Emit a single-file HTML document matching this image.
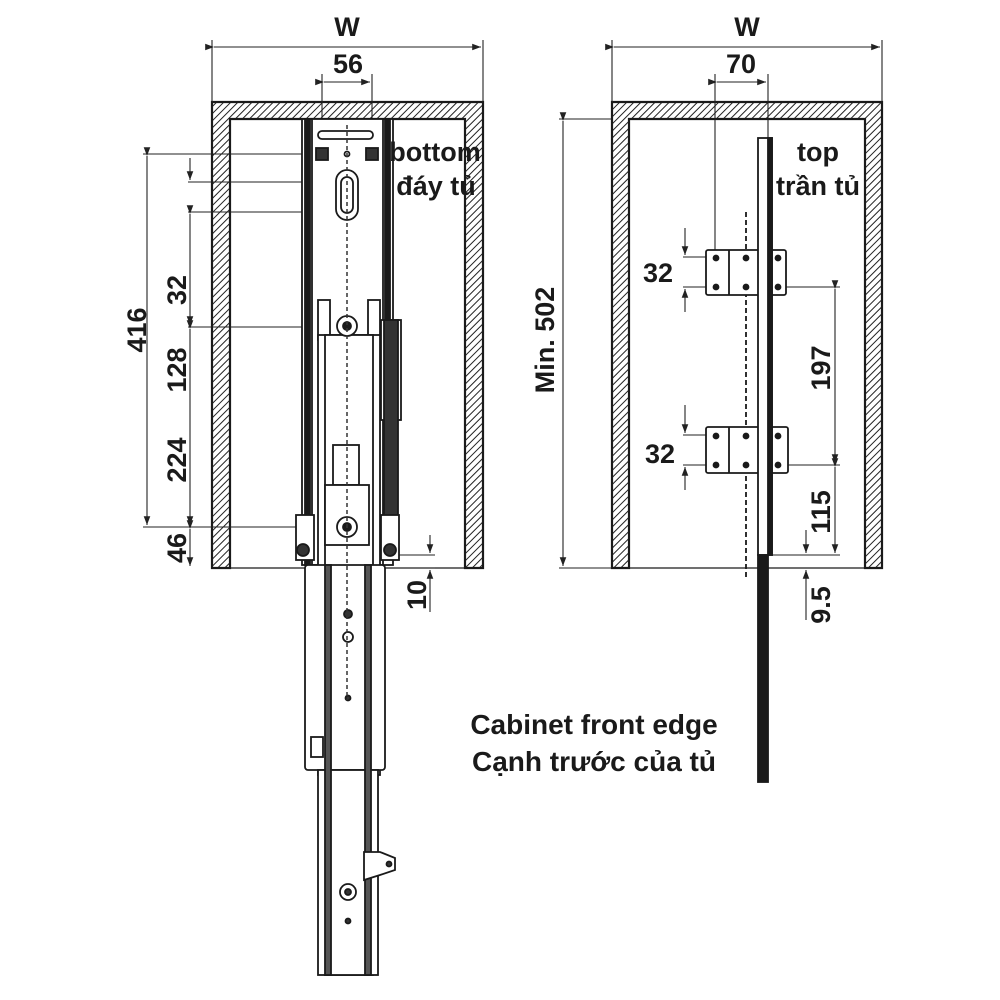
<!DOCTYPE html>
<html><head><meta charset="utf-8"><style>
html,body{margin:0;padding:0;background:#fff}
svg{display:block}
text{font-family:"Liberation Sans",sans-serif;font-weight:bold;fill:#1a1a1a}
</style></head><body>
<svg width="1000" height="1000" viewBox="0 0 1000 1000" xmlns="http://www.w3.org/2000/svg">
<defs>
<pattern id="h" width="5" height="5" patternUnits="userSpaceOnUse" patternTransform="rotate(45)">
<rect width="5" height="5" fill="#fff"/><line x1="0" y1="0" x2="0" y2="5" stroke="#222" stroke-width="2"/>
</pattern>
<marker id="a" markerWidth="8" markerHeight="10" refX="8" refY="5" orient="auto"><path d="M0,2 L8,5 L0,8" fill="#222"/></marker>
</defs>
<g stroke="#1a1a1a" fill="none" stroke-width="2.2">
<path d="M212,568 V102 H483 V568 H465 V119 H230 V568 Z" fill="url(#h)"/>
<path d="M612,568 V102 H882 V568 H865 V119 H629 V568 Z" fill="url(#h)"/>
<line x1="230" y1="568" x2="465" y2="568" stroke-width="1.2"/>
<line x1="629" y1="568" x2="865" y2="568" stroke-width="1.2"/>
</g>
<g stroke="#222" stroke-width="1.1">
<line x1="212" y1="40" x2="212" y2="102"/><line x1="483" y1="40" x2="483" y2="102"/>
<line x1="214" y1="47" x2="481" y2="47" marker-start="url(#a)" marker-end="url(#a)"/>
<line x1="322" y1="74" x2="322" y2="140"/><line x1="372" y1="74" x2="372" y2="140"/>
<line x1="324" y1="82" x2="370" y2="82" marker-start="url(#a)" marker-end="url(#a)"/>
<line x1="612" y1="40" x2="612" y2="102"/><line x1="882" y1="40" x2="882" y2="102"/>
<line x1="614" y1="47" x2="880" y2="47" marker-start="url(#a)" marker-end="url(#a)"/>
<line x1="715" y1="74" x2="715" y2="255"/><line x1="768" y1="74" x2="768" y2="255"/>
<line x1="717" y1="82" x2="766" y2="82" marker-start="url(#a)" marker-end="url(#a)"/>
<line x1="143" y1="154" x2="330" y2="154"/>
<line x1="188" y1="182" x2="345" y2="182"/>
<line x1="188" y1="212" x2="345" y2="212"/>
<line x1="188" y1="327" x2="345" y2="327"/>
<line x1="143" y1="527" x2="345" y2="527"/>
<line x1="147" y1="156" x2="147" y2="525" marker-start="url(#a)" marker-end="url(#a)"/>
<line x1="190" y1="158" x2="190" y2="180" marker-end="url(#a)"/>
<line x1="190" y1="214" x2="190" y2="325" marker-start="url(#a)" marker-end="url(#a)"/>
<line x1="190" y1="329" x2="190" y2="525" marker-start="url(#a)" marker-end="url(#a)"/>
<line x1="190" y1="529" x2="190" y2="566" marker-start="url(#a)" marker-end="url(#a)"/>
<line x1="385" y1="555" x2="435" y2="555"/>
<line x1="430" y1="535" x2="430" y2="553" marker-end="url(#a)"/>
<line x1="430" y1="612" x2="430" y2="570" marker-end="url(#a)"/>
<line x1="395" y1="568" x2="435" y2="568"/>
<line x1="559" y1="119" x2="612" y2="119"/>
<line x1="563" y1="121" x2="563" y2="566" marker-start="url(#a)" marker-end="url(#a)"/>
<line x1="559" y1="568" x2="612" y2="568"/>
<line x1="683" y1="257" x2="706" y2="257"/><line x1="683" y1="287" x2="840" y2="287"/>
<line x1="685" y1="228" x2="685" y2="255" marker-end="url(#a)"/>
<line x1="685" y1="312" x2="685" y2="289" marker-end="url(#a)"/>
<line x1="683" y1="435" x2="706" y2="435"/><line x1="683" y1="465" x2="840" y2="465"/>
<line x1="685" y1="405" x2="685" y2="433" marker-end="url(#a)"/>
<line x1="685" y1="490" x2="685" y2="467" marker-end="url(#a)"/>
<line x1="835" y1="289" x2="835" y2="463" marker-start="url(#a)" marker-end="url(#a)"/>
<line x1="835" y1="467" x2="835" y2="553" marker-start="url(#a)" marker-end="url(#a)"/>
<line x1="770" y1="555" x2="840" y2="555"/>
<line x1="806" y1="530" x2="806" y2="553" marker-end="url(#a)"/>
<line x1="806" y1="620" x2="806" y2="570" marker-end="url(#a)"/>
</g>
<g stroke="#1a1a1a" fill="#fff" stroke-width="1.8">
<rect x="302" y="119" width="91" height="446"/>
<rect x="312" y="119" width="71" height="446"/>
<rect x="305" y="119" width="5" height="446" fill="#1a1a1a"/>
<rect x="385" y="119" width="5" height="400" fill="#1a1a1a"/>
<rect x="318" y="131" width="55" height="8" rx="4"/>
<rect x="316" y="148" width="12" height="12" fill="#333"/>
<rect x="366" y="148" width="12" height="12" fill="#333"/>
<circle cx="347" cy="154" r="2.5"/>
<rect x="336" y="170" width="22" height="50" rx="11"/>
<rect x="341" y="177" width="12" height="36" rx="6"/>
<rect x="318" y="300" width="12" height="40"/><rect x="368" y="300" width="12" height="40"/>
<rect x="318" y="335" width="62" height="440"/>
<rect x="325" y="335" width="48" height="640"/>
<rect x="305" y="565" width="80" height="205" rx="3"/>
<rect x="318" y="770" width="60" height="205"/>
<rect x="325" y="565" width="6" height="410" fill="#555"/>
<rect x="365" y="565" width="6" height="410" fill="#555"/>
<circle cx="347" cy="326" r="10"/><circle cx="347" cy="326" r="4" fill="#1a1a1a"/>
<rect x="333" y="445" width="26" height="40"/>
<rect x="325" y="485" width="44" height="60"/>
<circle cx="347" cy="527" r="10"/><circle cx="347" cy="527" r="4" fill="#1a1a1a"/>
<rect x="381" y="320" width="20" height="100" fill="#fff"/>
<rect x="384" y="320" width="14" height="200" fill="#333"/>
<rect x="381" y="515" width="18" height="45"/>
<rect x="296" y="515" width="18" height="45"/>
<circle cx="303" cy="550" r="6" fill="#333"/><circle cx="390" cy="550" r="6" fill="#333"/>
<circle cx="348" cy="614" r="4" fill="#333"/><circle cx="348" cy="637" r="5"/>
<circle cx="348" cy="698" r="2.5" fill="#333"/>
<rect x="311" y="737" width="12" height="20"/>
<path d="M364,852 L380,852 L395,858 L395,870 L380,875 L364,880 Z"/>
<circle cx="389" cy="864" r="2.5" fill="#333"/>
<circle cx="348" cy="892" r="8"/><circle cx="348" cy="892" r="3" fill="#333"/>
<circle cx="348" cy="921" r="2.5" fill="#333"/>
</g>
<line x1="347" y1="125" x2="347" y2="700" stroke="#333" stroke-width="1.5" stroke-dasharray="4,3"/>
<g stroke="#1a1a1a" fill="#fff" stroke-width="1.8">
<line x1="746" y1="212" x2="746" y2="580" stroke-dasharray="5,3"/>
<rect x="706" y="250" width="80" height="45" rx="2"/>
<line x1="729" y1="250" x2="729" y2="295"/>
<rect x="706" y="427" width="82" height="46" rx="2"/>
<line x1="729" y1="427" x2="729" y2="473"/>
<rect x="758" y="138" width="14" height="417"/>
<rect x="768" y="138" width="4" height="417" fill="#1a1a1a"/>
<rect x="758" y="555" width="10" height="227" fill="#1a1a1a"/>
<g fill="#1a1a1a"><circle cx="716" cy="258" r="2.5"/><circle cx="716" cy="287" r="2.5"/><circle cx="746" cy="258" r="2.5"/><circle cx="746" cy="287" r="2.5"/><circle cx="778" cy="258" r="2.5"/><circle cx="778" cy="287" r="2.5"/>
<circle cx="716" cy="436" r="2.5"/><circle cx="716" cy="465" r="2.5"/><circle cx="746" cy="436" r="2.5"/><circle cx="746" cy="465" r="2.5"/><circle cx="778" cy="436" r="2.5"/><circle cx="778" cy="465" r="2.5"/></g>
</g>
<g font-size="27">
<text x="347" y="36" text-anchor="middle">W</text>
<text x="348" y="73" text-anchor="middle">56</text>
<text x="747" y="36" text-anchor="middle">W</text>
<text x="741" y="73" text-anchor="middle">70</text>
<text x="435" y="161" text-anchor="middle">bottom</text>
<text x="436" y="195" text-anchor="middle">đáy tủ</text>
<text x="818" y="161" text-anchor="middle">top</text>
<text x="818" y="195" text-anchor="middle">trần tủ</text>
<text x="658" y="282" text-anchor="middle">32</text>
<text x="660" y="463" text-anchor="middle">32</text>
<text transform="translate(146,330) rotate(-90)" text-anchor="middle">416</text>
<text transform="translate(186,290) rotate(-90)" text-anchor="middle">32</text>
<text transform="translate(186,370) rotate(-90)" text-anchor="middle">128</text>
<text transform="translate(186,460) rotate(-90)" text-anchor="middle">224</text>
<text transform="translate(186,548) rotate(-90)" text-anchor="middle">46</text>
<text transform="translate(426,595) rotate(-90)" text-anchor="middle">10</text>
<text transform="translate(554,340) rotate(-90)" text-anchor="middle">Min. 502</text>
<text transform="translate(830,368) rotate(-90)" text-anchor="middle">197</text>
<text transform="translate(830,512) rotate(-90)" text-anchor="middle">115</text>
<text transform="translate(830,605) rotate(-90)" text-anchor="middle">9.5</text>
<text x="594" y="734" text-anchor="middle" font-size="28">Cabinet front edge</text>
<text x="594" y="771" text-anchor="middle" font-size="28">Cạnh trước của tủ</text>
</g>
</svg>
</body></html>
